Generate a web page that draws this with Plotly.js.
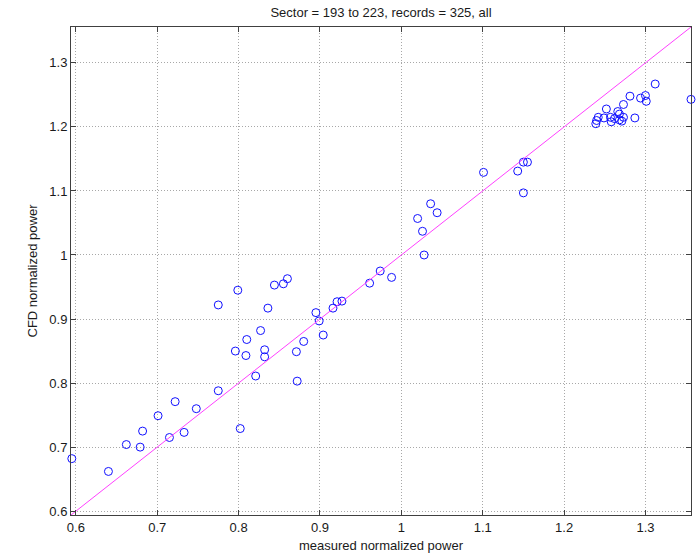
<!DOCTYPE html>
<html>
<head>
<meta charset="utf-8">
<script src="https://cdn.plot.ly/plotly-3.0.1.min.js"></script>
<style>html,body{margin:0;padding:0;background:#fff;}#chart{width:700px;height:556px;}</style>
</head>
<body>
<div id="chart"></div>
<script>
// measured normalized power (x) and CFD normalized power (y)
var measured = [
  0.595, 0.640, 0.662, 0.679, 0.682, 0.701, 0.715, 0.722, 0.733, 0.748,
  0.775, 0.802, 0.775, 0.799, 0.844, 0.855, 0.860, 0.836, 0.827, 0.810,
  0.796, 0.809, 0.832, 0.832, 0.821, 0.872, 0.871, 0.880, 0.895, 0.899,
  0.904, 0.916, 0.921, 0.927, 0.961, 0.974, 0.988, 1.020, 1.026, 1.028,
  1.036, 1.044, 1.101, 1.143, 1.150, 1.155, 1.150,
  1.239, 1.240, 1.242, 1.249, 1.252, 1.257, 1.258, 1.262, 1.266, 1.268,
  1.268, 1.271, 1.273, 1.273, 1.281, 1.287, 1.294, 1.300, 1.301, 1.312, 1.356
];
var cfd = [
  0.682, 0.662, 0.704, 0.700, 0.725, 0.749, 0.715, 0.771, 0.723, 0.760,
  0.788, 0.729, 0.922, 0.945, 0.953, 0.955, 0.963, 0.917, 0.882, 0.868,
  0.850, 0.843, 0.852, 0.841, 0.811, 0.803, 0.849, 0.865, 0.910, 0.897,
  0.875, 0.917, 0.927, 0.928, 0.956, 0.975, 0.965, 1.057, 1.037, 1.000,
  1.080, 1.066, 1.129, 1.131, 1.145, 1.145, 1.097,
  1.205, 1.210, 1.215, 1.214, 1.228, 1.215, 1.208, 1.213, 1.224, 1.220,
  1.211, 1.209, 1.215, 1.235, 1.248, 1.214, 1.245, 1.249, 1.240, 1.267, 1.243
];
// identity reference line y = x over the data extent
var identityLine = [0.594, 1.356];
var axisRange = [0.594, 1.356];
var tickVals = [0.6, 0.7, 0.8, 0.9, 1, 1.1, 1.2, 1.3];
var tickText = ['0.6', '0.7', '0.8', '0.9', '1', '1.1', '1.2', '1.3'];

var traces = [
  {
    x: measured, y: cfd, type: 'scatter', mode: 'markers',
    marker: {symbol: 'circle-open', size: 8, color: '#1010ff', line: {width: 1, color: '#1010ff'}},
    showlegend: false, hoverinfo: 'x+y', cliponaxis: false
  },
  {
    x: identityLine, y: identityLine, type: 'scatter', mode: 'lines',
    line: {color: '#ff40ff', width: 1}, showlegend: false
  }
];

var axisCommon = {
  range: axisRange, tickmode: 'array', tickvals: tickVals, ticktext: tickText,
  showgrid: true, gridcolor: '#a8a8a8', griddash: '1px,2px', gridwidth: 1,
  zeroline: false, showline: true, linecolor: '#404040', linewidth: 1, mirror: 'ticks',
  ticks: 'inside', ticklen: 5, tickcolor: '#404040',
  tickfont: {family: 'Liberation Sans, Arial, sans-serif', size: 13, color: '#1a1a1a'}
};

var layout = {
  width: 700, height: 556,
  paper_bgcolor: '#ffffff', plot_bgcolor: '#ffffff',
  margin: {l: 71, r: 9, t: 27, b: 41},
  font: {family: 'Liberation Sans, Arial, sans-serif', size: 13, color: '#1a1a1a'},
  title: {
    text: 'Sector = 193 to 223, records = 325, all',
    font: {family: 'Liberation Sans, Arial, sans-serif', size: 13, color: '#1a1a1a'},
    x: 0.5443, xref: 'container', xanchor: 'center',
    y: 1 - 12 / 556, yref: 'container', yanchor: 'middle'
  },
  xaxis: Object.assign({}, axisCommon, {
    title: {text: 'measured normalized power', standoff: 7,
      font: {family: 'Liberation Sans, Arial, sans-serif', size: 13, color: '#1a1a1a'}}
  }),
  yaxis: Object.assign({}, axisCommon, {
    title: {text: 'CFD normalized power', standoff: 8,
      font: {family: 'Liberation Sans, Arial, sans-serif', size: 13, color: '#1a1a1a'}}
  })
};

Plotly.newPlot('chart', traces, layout, {displayModeBar: false, staticPlot: true});
</script>
</body>
</html>
